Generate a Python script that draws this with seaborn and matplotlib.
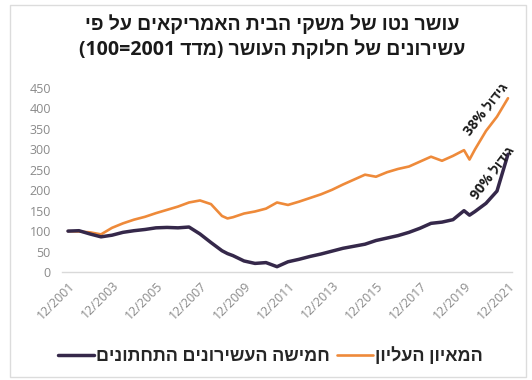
import re
import numpy as np
import pandas as pd
import matplotlib
matplotlib.use("Agg")
import matplotlib.pyplot as plt
import seaborn as sns
from matplotlib.patches import Rectangle
from matplotlib.lines import Line2D

# Net worth index (12/2001 = 100), end-of-period readings
periods = [
    "2001-12", "2002-06", "2002-12", "2003-06", "2003-12", "2004-06", "2004-12",
    "2005-06", "2005-12", "2006-06", "2006-12", "2007-06", "2007-12", "2008-06",
    "2008-12", "2009-03", "2009-06", "2009-12", "2010-06", "2010-12", "2011-06",
    "2011-12", "2012-06", "2012-12", "2013-06", "2013-12", "2014-06", "2014-12",
    "2015-06", "2015-12", "2016-06", "2016-12", "2017-06", "2017-12", "2018-06",
    "2018-12", "2019-06", "2019-12", "2020-03", "2020-06", "2020-12", "2021-06",
    "2021-12",
]
top_1pct = [
    100, 99, 97, 92, 108, 119, 128,
    135, 144, 152, 160, 170, 175, 166,
    137, 131, 134, 143, 148, 155, 170,
    164, 172, 181, 190, 201, 214, 226,
    238, 233, 244, 252, 258, 270, 282,
    272, 284, 298, 275, 300, 345, 380,
    425,
]
bottom_50pct = [
    100, 101, 93, 86, 90, 97, 101,
    104, 108, 109, 108, 110, 93, 72,
    52, 45, 40, 27, 21, 23, 13,
    25, 31, 38, 44, 51, 58, 63,
    68, 77, 83, 89, 97, 107, 119,
    122, 128, 150, 139, 148, 168, 198,
    288,
]

tick_periods = ["2001-12", "2003-12", "2005-12", "2007-12", "2009-12", "2011-12",
                "2013-12", "2015-12", "2017-12", "2019-12", "2021-12"]
y_ticks = [0, 50, 100, 150, 200, 250, 300, 350, 400, 450]

title_lines = ["עושר נטו של משקי הבית האמריקאים על פי",
               "עשירונים של חלוקת העושר (מדד 2001=100)"]
label_top = "המאיון העליון"
label_bottom = "חמישה העשירונים התחתונים"
note_top = "גידול 38%"
note_bottom = "גידול 90%"

ORANGE = "#EE8A3A"
PURPLE = "#35284A"


def visual(s):
    """Lay out a right-to-left string in left-to-right drawing order."""
    r = s[::-1]
    r = re.sub(r"[0-9%]+", lambda m: m.group(0)[::-1], r)
    return r.translate(str.maketrans("()", ")("))


def frac_year(p):
    y, m = map(int, p.split("-"))
    return y + (m - 1) / 12.0


df = pd.DataFrame({
    "t": [frac_year(p) for p in periods],
    "top": top_1pct,
    "bottom": bottom_50pct,
})

sns.set_theme(style="white")
plt.rcParams["font.family"] = ["Open Sans", "Liberation Sans", "DejaVu Sans"]

fig = plt.figure(figsize=(5.32, 3.80), dpi=100)
ax = fig.add_axes([62 / 532, 108 / 380, 450 / 532, 184 / 380])

sns.lineplot(data=df, x="t", y="top", color=ORANGE, linewidth=1.9, ax=ax)
sns.lineplot(data=df, x="t", y="bottom", color=PURPLE, linewidth=2.5, ax=ax)

t0 = frac_year("2001-12")
ppy = 22.0
ax.set_xlim(t0 - 6 / ppy, frac_year("2021-12") + 4 / ppy)
ax.set_ylim(0, 450)

ax.set_xticks([frac_year(p) for p in tick_periods])
ax.set_xticklabels([f"{p[5:]}/{p[:4]}" for p in tick_periods],
                   rotation=45, ha="right", va="top", rotation_mode="anchor",
                   fontsize=9, color="#8a8a8a")
ax.set_yticks(y_ticks)
ax.set_yticklabels([str(v) for v in y_ticks], fontsize=9, color="#8a8a8a")
ax.tick_params(axis="both", length=0)
ax.tick_params(axis="x", pad=5)
ax.tick_params(axis="y", pad=8)
ax.set_xlabel("")
ax.set_ylabel("")
for side in ("top", "right", "left"):
    ax.spines[side].set_visible(False)
ax.spines["bottom"].set_color("#d9d9d9")
ax.spines["bottom"].set_linewidth(1.0)

# Growth notes running along the line ends
ax.text(2020.95, 398, visual(note_top), rotation=52, ha="center", va="center",
        fontsize=10, fontweight="bold", color="#1a1a1a")
ax.text(2021.22, 242, visual(note_bottom), rotation=53, ha="center", va="center",
        fontsize=10, fontweight="bold", color="#1a1a1a")

# Title
fig.text(272 / 532, 1 - 25 / 380, visual(title_lines[0]), ha="center", va="center",
         fontsize=14, fontweight="bold", color="#1a1a1a")
fig.text(272 / 532, 1 - 50 / 380, visual(title_lines[1]), ha="center", va="center",
         fontsize=14, fontweight="bold", color="#1a1a1a")

# Legend
handles = [Line2D([], [], color=PURPLE, linewidth=2.5),
           Line2D([], [], color=ORANGE, linewidth=1.9)]
fig.legend(handles, [visual(label_bottom), visual(label_top)],
           loc="center", bbox_to_anchor=(270 / 532, 1 - 356 / 380), ncol=2,
           frameon=False, handlelength=2.0, handletextpad=0.1, columnspacing=0.4,
           prop={"size": 13, "weight": "semibold"}, labelcolor="#262626")

# Chart area border
fig.patches.append(Rectangle((10 / 532, 3 / 380), 516 / 532, 372 / 380,
                             transform=fig.transFigure, fill=False,
                             edgecolor="#dcdcdc", linewidth=1.0))

fig.savefig("out.png", dpi=100)
